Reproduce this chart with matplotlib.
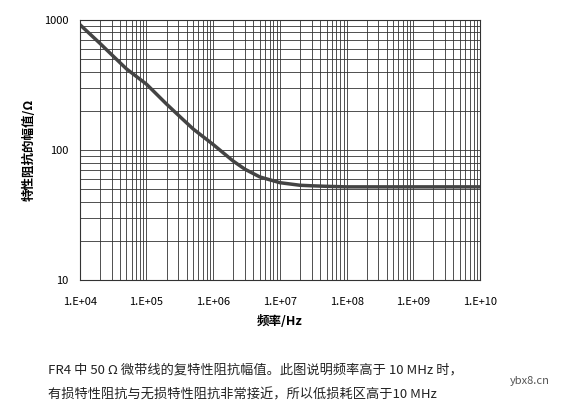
import matplotlib
matplotlib.use("Agg")
import matplotlib.pyplot as plt
from matplotlib.ticker import LogLocator, NullFormatter

plt.rcParams['font.family'] = ['Noto Sans CJK SC', 'DejaVu Sans']

freq = [1e4, 2e4, 3e4, 5e4, 1e5, 2e5, 3e5, 5e5, 1e6, 2e6, 3e6, 5e6, 1e7, 2e7, 3e7, 5e7, 1e8, 1e9, 1e10]
zmag = [920, 660, 540, 420, 320, 225, 185, 145, 110, 82, 71, 62, 56, 53.5, 53, 52.5, 52, 52, 52]
xticks = [1e4, 1e5, 1e6, 1e7, 1e8, 1e9, 1e10]
xlabels = ["1.E+04", "1.E+05", "1.E+06", "1.E+07", "1.E+08", "1.E+09", "1.E+10"]
yticks = [10, 100, 1000]
ylabels = ["10", "100", "1000"]

fig = plt.figure(figsize=(5.66, 4.13), dpi=100)
ax = fig.add_axes([0.141, 0.322, 0.707, 0.63])
ax.plot(freq, zmag, color="#444444", lw=2.5)
ax.set_xscale("log"); ax.set_yscale("log")
ax.set_xlim(1e4, 1e10); ax.set_ylim(10, 1000)
ax.set_xticks(xticks); ax.set_xticklabels(xlabels, fontsize=8)
ax.set_yticks(yticks); ax.set_yticklabels(ylabels, fontsize=8)
ax.xaxis.set_minor_locator(LogLocator(base=10, subs=range(2, 10), numticks=100))
ax.yaxis.set_minor_locator(LogLocator(base=10, subs=range(2, 10), numticks=100))
ax.xaxis.set_minor_formatter(NullFormatter()); ax.yaxis.set_minor_formatter(NullFormatter())
ax.grid(True, which="both", color="#333333", lw=0.6)
ax.tick_params(which="both", length=0)
ax.tick_params(axis="x", pad=12)
ax.tick_params(axis="y", pad=8)
for s in ax.spines.values():
    s.set_color("#333333")
ax.set_xlabel("频率/Hz", fontsize=9, fontweight="bold", labelpad=6)
ax.set_ylabel("特性阻抗的幅值/Ω", fontsize=9, fontweight="bold", labelpad=6)
fig.text(0.085, 0.095, "FR4 中 50 Ω 微带线的复特性阻抗幅值。此图说明频率高于 10 MHz 时，", fontsize=9.5, color="#222222")
fig.text(0.085, 0.035, "有损特性阻抗与无损特性阻抗非常接近，所以低损耗区高于10 MHz", fontsize=9.5, color="#222222")
fig.text(0.9, 0.07, "ybx8.cn", fontsize=8, color="#555555")
fig.savefig("out.png", dpi=100)
